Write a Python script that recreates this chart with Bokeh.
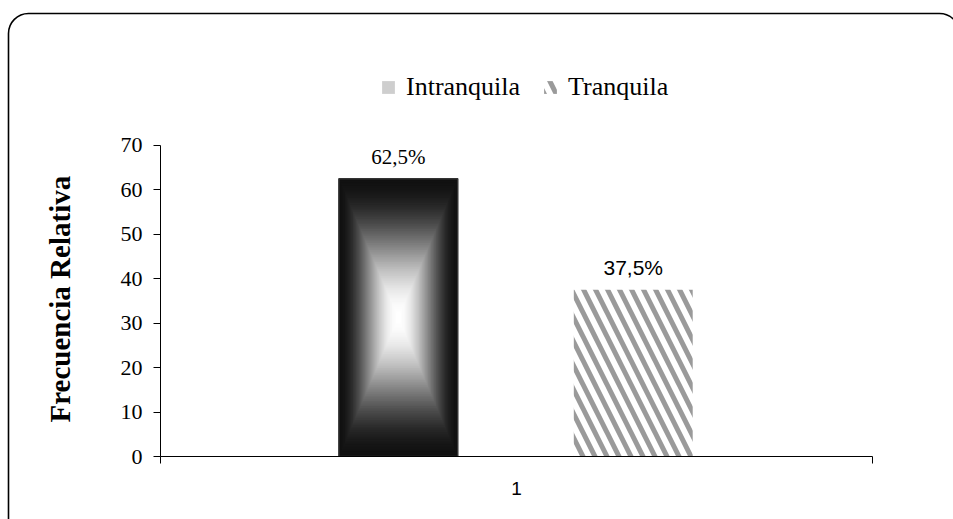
from urllib.parse import quote
from bokeh.plotting import figure
from bokeh.models import (ColumnDataSource, Range1d, FixedTicker, LinearAxis,
                          Legend, LegendItem, Title)
from bokeh.embed import file_html
from bokeh.resources import INLINE

# ---- data ----
categories = ["1"]
series = ["Intranquila", "Tranquila"]
values = [62.5, 37.5]
value_labels = ["62,5%", "37,5%"]
y_ticks = [0, 10, 20, 30, 40, 50, 60, 70]
y_max = 70
y_title = "Frecuencia Relativa"

# ---- layout helpers (not data) ----
offsets = [-0.166, 0.164]
bar_w = 0.167
label_fonts = ["Liberation Serif", "Liberation Sans"]

W, H = 953, 519
p = figure(width=W, height=H, output_backend="svg", toolbar_location=None,
           x_range=Range1d(0, len(categories)), y_range=Range1d(0, 90),
           x_axis_type=None, y_axis_type=None,
           min_border_left=160, min_border_right=81,
           min_border_top=56, min_border_bottom=63)
p.outline_line_color = None
p.xgrid.visible = False
p.ygrid.visible = False
p.background_fill_color = None
p.border_fill_color = None

# rounded outer frame of the chart area (decoration drawn behind the canvas)
frame_svg = ("<svg xmlns='http://www.w3.org/2000/svg' width='953' height='519'>"
             "<rect x='8.5' y='13.5' width='951' height='540' rx='20' ry='20' "
             "fill='white' stroke='black' stroke-width='1.6'/></svg>")
p.styles = {"background-image": "url(\"data:image/svg+xml;charset=utf-8," + quote(frame_svg) + "\")",
            "background-repeat": "no-repeat"}

# ---- axes ----
yax = LinearAxis(ticker=FixedTicker(ticks=y_ticks), bounds=(0, y_max))
yax.major_label_text_font = "Liberation Serif"
yax.major_label_text_font_size = "22px"
yax.major_label_text_color = "black"
yax.major_label_standoff = 11
yax.major_tick_in = 0
yax.major_tick_out = 7
yax.minor_tick_line_color = None
yax.axis_line_color = "black"
yax.major_tick_line_color = "black"
p.add_layout(yax, "left")

ytitle = Title(text=y_title, align="left", offset=34, standoff=83,
               vertical_align="bottom",
               text_font="Liberation Serif", text_font_style="bold",
               text_font_size="29px", text_color="black")
p.add_layout(ytitle, "left")

cat_centers = [i + 0.5 for i in range(len(categories))]
xax = LinearAxis(ticker=FixedTicker(ticks=cat_centers,
                                    minor_ticks=list(range(len(categories) + 1))))
xax.major_label_overrides = {c: lab for c, lab in zip(cat_centers, categories)}
xax.major_label_text_font = "Liberation Sans"
xax.major_label_text_font_size = "19px"
xax.major_label_text_color = "black"
xax.major_label_standoff = 18
xax.major_tick_in = 0
xax.major_tick_out = 0
xax.minor_tick_in = 0
xax.minor_tick_out = 7
xax.minor_tick_line_color = "black"
xax.axis_line_color = "black"
p.add_layout(xax, "below")

# ---- gradient bar (Intranquila): nested rectangles, box gradient ----
N = 80
cx = cat_centers[0] + offsets[0]
v0 = values[0]
gx, gy, gw, gh, gc = [], [], [], [], []
for i in range(N):
    s = 1 - i / N
    u = i / (N - 1)
    t = u * u * (3 - 2 * u)
    g = int(round(17 + (255 - 17) * t))
    gx.append(cx)
    gy.append(v0 / 2)
    gw.append(bar_w * s)
    gh.append(v0 * s)
    gc.append("#%02x%02x%02x" % (g, g, g))
gsrc = ColumnDataSource(dict(x=gx, y=gy, w=gw, h=gh, c=gc))
r_grad = p.rect(x="x", y="y", width="w", height="h", fill_color="c",
                line_color=None, source=gsrc)
r_outline = p.rect(x=[cx], y=[v0 / 2], width=[bar_w], height=[v0],
                   fill_color=None, line_color="#333333", line_width=1.5)

# ---- hatched bar (Tranquila) ----
cx2 = cat_centers[0] + offsets[1]
hsrc = ColumnDataSource(dict(x=[cx2], top=[values[1]]))
r_hatch = p.vbar(x="x", top="top", bottom=0, width=bar_w, source=hsrc,
                 fill_color="white", line_color=None,
                 hatch_pattern="\\", hatch_color="#9a9a9a",
                 hatch_weight=5, hatch_scale=24)

# ---- value labels ----
lsrc = ColumnDataSource(dict(x=[cx, cx2], y=values, t=value_labels, f=label_fonts))
p.text(x="x", y="y", text="t", text_font="f", source=lsrc,
       text_font_size="21px", text_align="center", text_baseline="middle",
       y_offset=-22, text_color="black")

# ---- legend ----
legend = Legend(items=[
    LegendItem(label=series[0], renderers=[r_grad, r_outline], index=int(N * 0.7)),
    LegendItem(label=series[1], renderers=[r_hatch]),
], orientation="horizontal", location=(220, 354))
legend.label_text_font = "Liberation Serif"
legend.label_text_font_size = "26px"
legend.label_text_color = "black"
legend.glyph_width = 16
legend.glyph_height = 16
legend.label_standoff = 10
legend.spacing = 22
legend.padding = 0
legend.margin = 0
legend.border_line_color = None
legend.background_fill_alpha = 0
p.add_layout(legend, "center")

open("out.html", "w").write(file_html(p, INLINE))
